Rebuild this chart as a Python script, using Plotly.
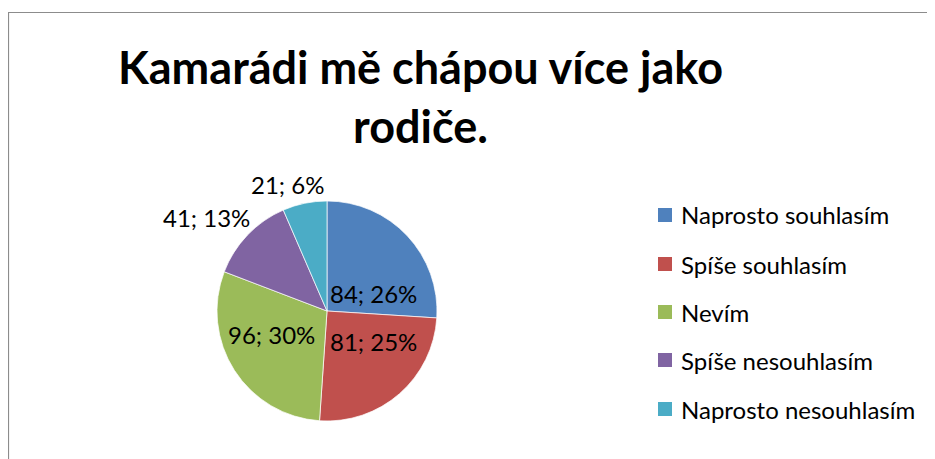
import plotly.graph_objects as go

W, H = 935, 459
OFF = 8  # page body margin of the browser

categories = ["Naprosto souhlasím", "Spíše souhlasím", "Nevím", "Spíše nesouhlasím", "Naprosto nesouhlasím"]
values = [84, 81, 96, 41, 21]
percent_labels = ["26%", "25%", "30%", "13%", "6%"]
colors = ["#4F81BD", "#C0504D", "#9BBB59", "#8064A2", "#4BACC6"]
title_text = "Kamarádi mě chápou více jako<br>rodiče."

# label anchor positions in screen pixels (text placement, best-fit like the original)
label_pos = [(373, 293), (373, 341), (271, 334), (206, 217), (287, 185)]
legend_rows = [215, 264, 312, 360, 409]

FONT = "Lato"


def px(x):
    return (x - OFF) / W


def py(y):
    return 1 - (y - OFF) / H


fig = go.Figure()
fig.add_trace(go.Pie(
    labels=categories,
    values=values,
    sort=False,
    direction="clockwise",
    rotation=0,
    marker=dict(colors=colors, line=dict(color="rgba(255,255,255,0.7)", width=1)),
    textinfo="none",
    hoverinfo="label+value+percent",
    showlegend=False,
    domain=dict(x=[px(217), px(437)], y=[py(421), py(201)]),
))

annotations = [dict(
    x=px(420), y=py(38), xref="paper", yref="paper",
    text=f"<b>{title_text}</b>", showarrow=False, xanchor="center", yanchor="top",
    align="center", font=dict(family=FONT, size=45, color="#000000"),
)]
for (lx, ly), v, p in zip(label_pos, values, percent_labels):
    annotations.append(dict(
        x=px(lx), y=py(ly), xref="paper", yref="paper",
        text=f"{v}; {p}", showarrow=False, xanchor="center", yanchor="middle",
        font=dict(family=FONT, size=24, color="#000000"),
    ))

shapes = [dict(type="rect", xref="paper", yref="paper",
               x0=px(8.5), y0=-0.05, x1=1.05, y1=py(12.5),
               line=dict(color="#8C8C8C", width=1.2), fillcolor="rgba(0,0,0,0)")]

for cat, col, ry in zip(categories, colors, legend_rows):
    shapes.append(dict(type="rect", xref="paper", yref="paper",
                       x0=px(658), x1=px(672), y0=py(ry + 7), y1=py(ry - 7),
                       line=dict(width=0), fillcolor=col))
    annotations.append(dict(
        x=px(679), y=py(ry), xref="paper", yref="paper",
        text=cat, showarrow=False, xanchor="left", yanchor="middle",
        font=dict(family=FONT, size=24, color="#000000"),
    ))

fig.update_layout(
    width=W, height=H,
    margin=dict(l=0, r=0, t=0, b=0),
    paper_bgcolor="white", plot_bgcolor="white",
    annotations=annotations,
    shapes=shapes,
)

fig.write_html("out.html")
